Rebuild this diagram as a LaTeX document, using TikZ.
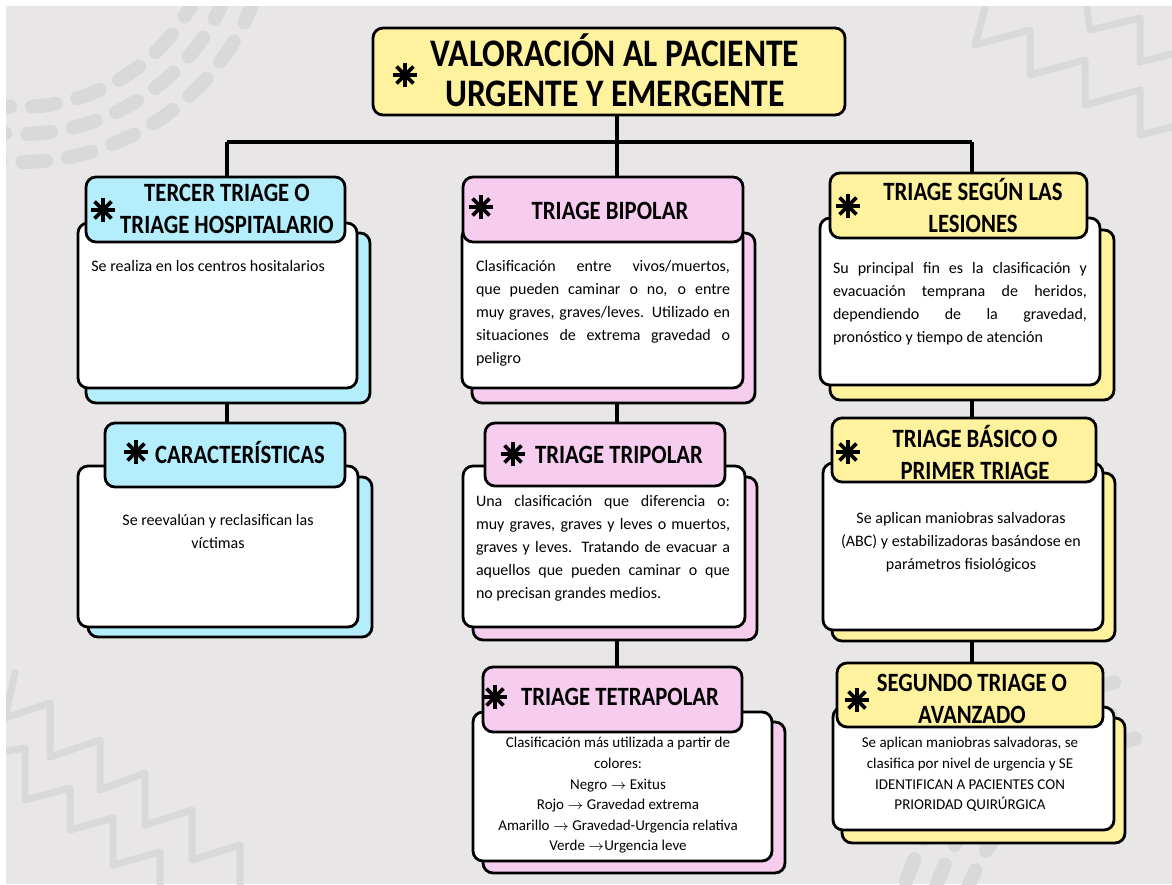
\documentclass[tikz,border=0pt]{standalone}
\usepackage{fontspec}
\setmainfont{Carlito}
\newfontfamily\headfont[FakeStretch=0.86]{Carlito}
\usetikzlibrary{fit}

\definecolor{bggray}{HTML}{E8E6E7}
\definecolor{decogray}{HTML}{DAD9DA}
\definecolor{cardyellow}{HTML}{FFF29E}
\definecolor{cardblue}{HTML}{B4EDFC}
\definecolor{cardpink}{HTML}{F6CDEF}

\begin{document}
\begin{tikzpicture}
    [
      x=0.5pt, y=-0.5pt,
      card/.style={draw=black, line width=1.4pt, rounded corners=5pt, inner sep=0pt},
      shadow/.style={card, fill=#1},
      body/.style={card, fill=white},
      header/.style={card, fill=#1},
      htext/.style={font=\headfont\bfseries\fontsize{13.2}{16}\selectfont, align=center, inner sep=0pt},
      ttext/.style={font=\headfont\bfseries\fontsize{19.5}{20}\selectfont, align=center, inner sep=0pt},
      jtext/.style={font=\fontsize{8}{11.5}\selectfont, text width=127pt, align=justify, anchor=north, inner sep=0pt},
      ctext/.style={font=\fontsize{8}{11.5}\selectfont, align=center, anchor=north, inner sep=0pt},
      stext/.style={font=\fontsize{7.5}{10.3}\selectfont, align=center, anchor=north, inner sep=0pt},
      conn/.style={line width=1.6pt},
      deco/.style={decogray, line width=3.5pt, line join=round, line cap=round},
      astk/.pic={\foreach \a in {0,45,90,135} \draw[line width=1.8pt] (\a:12) -- (\a+180:12);},
    ]

    % background
    \fill[white] (0,0) rectangle (1172,884);
    \fill[bggray] (6,6) rectangle (1172,884);
    \begin{scope}
      \clip (6,6) rectangle (1172,884);
      \foreach \r in {195,222,250}
        \draw[decogray, line width=7pt, line cap=round, dash pattern=on 12pt off 11pt]
          (20,-88) ++(100:\r) arc[start angle=100, end angle=15, radius=\r];
      \foreach \r in {250,280,310}
        \draw[decogray, line width=7pt, line cap=round, dash pattern=on 12pt off 11pt]
          (1200,980) ++(190:\r) arc[start angle=190, end angle=255, radius=\r];
      \draw[deco] (15,673) -- (5,718) -- (50,703) -- (50,757) -- (100,740) -- (100,790)
        -- (145,773) -- (145,825) -- (192,810) -- (192,860) -- (240,845) -- (240,890);
      \draw[deco] (0,752) -- (25,748) -- (25,800) -- (70,788) -- (70,830) -- (113,818)
        -- (113,865) -- (160,852) -- (160,890);
      \draw[deco] (985,8) -- (975,45) -- (1030,30) -- (1030,75) -- (1085,60) -- (1085,105)
        -- (1140,90) -- (1140,135) -- (1180,125);
      \draw[deco] (1060,0) -- (1085,-5) -- (1090,30) -- (1140,18) -- (1140,62) -- (1180,52);
    \end{scope}

    % title
    \node (title) [header=cardyellow, fit={(373,28) (845,115)}] {};
    \node (t-title) [ttext] at (615,70) {VALORACIÓN AL PACIENTE\\URGENTE Y EMERGENTE};
    \pic at (405,75) {astk};

    % left column
    \node (s-tercer) [shadow=cardblue, fit={(86,233) (370,403)}] {};
    \node (b-tercer) [body, fit={(78,223) (357,388)}] {};
    \node (h-tercer) [header=cardblue, fit={(86,177) (345,242)}] {};
    \node (ht-tercer) [htext] at (227,209) {TERCER TRIAGE O\\TRIAGE HOSPITALARIO};
    \pic at (103,210) {astk};
    \node (t-tercer) [ctext, anchor=north west] at (91,260) {Se realiza en los centros hositalarios};

    \node (s-caract) [shadow=cardblue, fit={(88,477) (372,637)}] {};
    \node (b-caract) [body, fit={(78,466) (358,627)}] {};
    \node (h-caract) [header=cardblue, fit={(105,423) (345,487)}] {};
    \node (ht-caract) [htext] at (240,452) {CARACTERÍSTICAS};
    \pic at (136,452) {astk};
    \node (t-caract) [ctext] at (218,514) {Se reevalúan y reclasifican las\\víctimas};

    % middle column
    \node (s-bipolar) [shadow=cardpink, fit={(472,233) (755,403)}] {};
    \node (b-bipolar) [body, fit={(462,227) (743,388)}] {};
    \node (h-bipolar) [header=cardpink, fit={(463,177) (743,242)}] {};
    \node (ht-bipolar) [htext] at (610,211) {TRIAGE BIPOLAR};
    \pic at (481,207) {astk};
    \node (t-bipolar) [jtext] at (603,260) {Clasificación entre vivos/muertos,\linebreak
      que pueden caminar o no, o entre\linebreak muy graves, graves/leves. Utilizado en\linebreak
      situaciones de extrema gravedad o\linebreak peligro};

    \node (s-tripolar) [shadow=cardpink, fit={(473,477) (757,640)}] {};
    \node (b-tripolar) [body, fit={(463,466) (745,627)}] {};
    \node (h-tripolar) [header=cardpink, fit={(485,423) (725,486)}] {};
    \node (ht-tripolar) [htext] at (619,455) {TRIAGE TRIPOLAR};
    \pic at (513,454) {astk};
    \node (t-tripolar) [jtext] at (603,495) {Una clasificación que diferencia o:\linebreak
      muy graves, graves y leves o muertos,\linebreak graves y leves. Tratando de evacuar a\linebreak
      aquellos que pueden caminar o que\linebreak no precisan grandes medios.};

    \node (s-tetra) [shadow=cardpink, fit={(483,722) (785,873)}] {};
    \node (b-tetra) [body, fit={(473,712) (772,861)}] {};
    \node (h-tetra) [header=cardpink, fit={(483,667) (742,732)}] {};
    \node (ht-tetra) [htext] at (620,697) {TRIAGE TETRAPOLAR};
    \pic at (495,697) {astk};
    \node (t-tetra) [stext] at (618,737) {Clasificación más utilizada a partir de\\colores:\\
      Negro $\rightarrow$ Exitus\\Rojo $\rightarrow$ Gravedad extrema\\
      Amarillo $\rightarrow$ Gravedad-Urgencia relativa\\Verde $\rightarrow$Urgencia leve};

    % right column
    \node (s-segun) [shadow=cardyellow, fit={(830,230) (1114,400)}] {};
    \node (b-segun) [body, fit={(820,218) (1100,385)}] {};
    \node (h-segun) [header=cardyellow, fit={(830,173) (1087,238)}] {};
    \node (ht-segun) [htext] at (973,205) {TRIAGE SEGÚN LAS\\LESIONES};
    \pic at (848,206) {astk};
    \node (t-segun) [jtext] at (960,262) {Su principal fin es la clasificación y\linebreak
      evacuación temprana de heridos,\linebreak dependiendo de la gravedad,\linebreak
      pronóstico y tiempo de atención};

    \node (s-basico) [shadow=cardyellow, fit={(832,473) (1115,641)}] {};
    \node (b-basico) [body, fit={(823,463) (1103,630)}] {};
    \node (h-basico) [header=cardyellow, fit={(832,418) (1096,482)}] {};
    \node (ht-basico) [htext] at (975,452) {TRIAGE BÁSICO O\\PRIMER TRIAGE};
    \pic at (848,452) {astk};
    \node (t-basico) [ctext] at (961,512) {Se aplican maniobras salvadoras\\
      (ABC) y estabilizadoras basándose en\\parámetros fisiológicos};

    \node (s-segundo) [shadow=cardyellow, fit={(842,718) (1125,843)}] {};
    \node (b-segundo) [body, fit={(833,707) (1114,830)}] {};
    \node (h-segundo) [header=cardyellow, fit={(837,663) (1103,727)}] {};
    \node (ht-segundo) [htext] at (972,699) {SEGUNDO TRIAGE O\\AVANZADO};
    \pic at (857,700) {astk};
    \node (t-segundo) [stext] at (970,737) {Se aplican maniobras salvadoras, se\\
      clasifica por nivel de urgencia y SE\\IDENTIFICAN A PACIENTES CON\\PRIORIDAD QUIRÚRGICA};

    % connectors
    \coordinate (bus-l) at (227,142);
    \coordinate (bus-m) at (617,142);
    \coordinate (bus-r) at (972,142);
    \draw[conn] (bus-l) -- (bus-r);
    \draw[conn] (title.south -| bus-m) -- (bus-m);
    \draw[conn] (bus-l) -- (h-tercer.north -| bus-l);
    \draw[conn] (bus-m) -- (h-bipolar.north -| bus-m);
    \draw[conn] (bus-r) -- (h-segun.north -| bus-r);
    \draw[conn] (s-tercer.south -| bus-l) -- (h-caract.north -| bus-l);
    \draw[conn] (s-bipolar.south -| bus-m) -- (h-tripolar.north -| bus-m);
    \draw[conn] (s-tripolar.south -| bus-m) -- (h-tetra.north -| bus-m);
    \draw[conn] (s-segun.south -| bus-r) -- (h-basico.north -| bus-r);
    \draw[conn] (s-basico.south -| bus-r) -- (h-segundo.north -| bus-r);

\end{tikzpicture}
\end{document}
